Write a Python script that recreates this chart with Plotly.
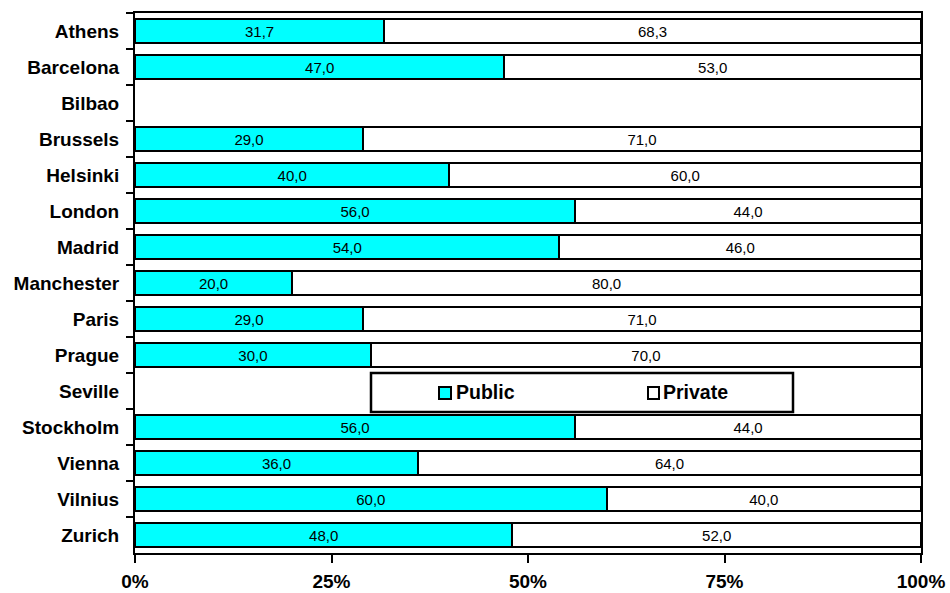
import plotly.graph_objects as go

# Share of public and private (%) by city
cities = ["Athens", "Barcelona", "Bilbao", "Brussels", "Helsinki", "London",
          "Madrid", "Manchester", "Paris", "Prague", "Seville", "Stockholm",
          "Vienna", "Vilnius", "Zurich"]
public = [31.7, 47.0, None, 29.0, 40.0, 56.0, 54.0, 20.0, 29.0, 30.0, None,
          56.0, 36.0, 60.0, 48.0]
private = [68.3, 53.0, None, 71.0, 60.0, 44.0, 46.0, 80.0, 71.0, 70.0, None,
           44.0, 64.0, 40.0, 52.0]
x_ticks = [0, 25, 50, 75, 100]
x_tick_labels = ["0%", "25%", "50%", "75%", "100%"]

FONT = "Liberation Sans, Arial, sans-serif"
CYAN = "#00FFFF"

fig = go.Figure()
for name, vals, color in [("Public", public, CYAN), ("Private", private, "#FFFFFF")]:
    fig.add_trace(go.Bar(
        name=name, y=cities, x=vals, orientation="h",
        marker=dict(color=color, line=dict(color="black", width=2)),
        texttemplate="%{x:.1f}", textposition="inside",
        insidetextanchor="middle", constraintext="none",
        textfont=dict(family=FONT, size=15, color="black"),
        hoverinfo="skip", showlegend=False,
    ))

fig.update_layout(
    width=950, height=593,
    margin=dict(l=135, r=29, t=13, b=40, autoexpand=False),
    barmode="stack", bargap=0.35,
    separators=", ",
    plot_bgcolor="white", paper_bgcolor="white",
    font=dict(family=FONT, color="black"),
)

fig.update_xaxes(
    range=[0, 100], tickvals=x_ticks, ticktext=x_tick_labels,
    showgrid=False, zeroline=False,
    showline=True, linecolor="black", linewidth=2, mirror=True,
    ticks="outside", ticklen=8, tickwidth=2, tickcolor="black",
    tickfont=dict(family=FONT, size=19, color="black", weight="bold"),
    ticklabelstandoff=2,
)
fig.update_yaxes(
    type="category", categoryorder="array", categoryarray=cities,
    range=[len(cities) - 0.5, -0.5],
    showgrid=False, zeroline=False,
    showline=True, linecolor="black", linewidth=2, mirror=True,
    ticks="outside", tickson="boundaries", ticklen=7, tickwidth=2,
    tickcolor="black",
    tickfont=dict(family=FONT, size=19, color="black", weight="bold"),
    ticklabelstandoff=10,
)

# Legend box drawn inside the plot area
def px_x(p):
    return (p - 135) / 786.0

def px_y(p):
    return (553 - p) / 540.0

shapes = [
    dict(type="rect", xref="paper", yref="paper",
         x0=px_x(371), x1=px_x(793), y0=px_y(412), y1=px_y(373),
         fillcolor="white", line=dict(color="black", width=2.5), layer="above"),
    dict(type="rect", xref="paper", yref="paper",
         x0=px_x(439), x1=px_x(451), y0=px_y(399), y1=px_y(387),
         fillcolor=CYAN, line=dict(color="black", width=2), layer="above"),
    dict(type="rect", xref="paper", yref="paper",
         x0=px_x(648), x1=px_x(659), y0=px_y(399), y1=px_y(387),
         fillcolor="white", line=dict(color="black", width=2), layer="above"),
]
fig.update_layout(shapes=shapes)
for label, left in [("Public", 454), ("Private", 661)]:
    fig.add_annotation(
        xref="paper", yref="paper", x=px_x(left), y=px_y(392.5),
        xanchor="left", yanchor="middle", showarrow=False,
        text="<b>%s</b>" % label,
        font=dict(family=FONT, size=19.5, color="black"),
    )

fig.write_html("out.html")
